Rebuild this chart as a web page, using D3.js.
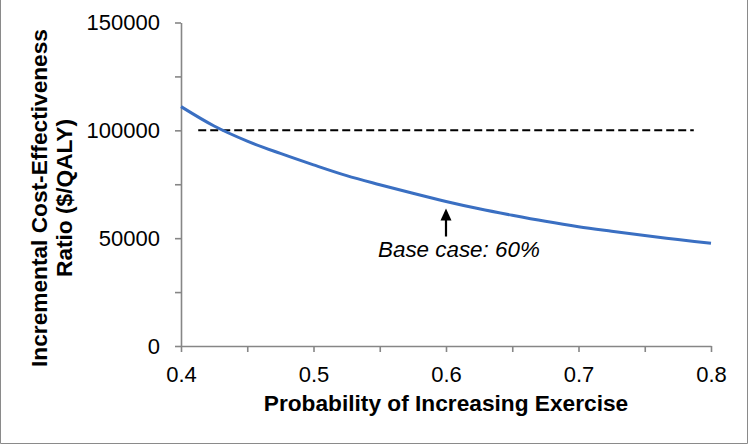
<!DOCTYPE html>
<html>
<head>
<meta charset="utf-8">
<script src="https://cdn.jsdelivr.net/npm/d3@7"></script>
<style>
  html, body { margin: 0; padding: 0; background: #fff; }
  svg { display: block; font-family: "Liberation Sans", Arial, sans-serif; }
</style>
</head>
<body>
<svg id="chart" width="750" height="444"></svg>
<script>
// ---- data ----
const probability = [0.400, 0.425, 0.450, 0.475, 0.500, 0.525, 0.550, 0.575, 0.600,
                     0.625, 0.650, 0.675, 0.700, 0.725, 0.750, 0.775, 0.800];
const icer = [111000, 102000, 95000, 89300, 84000, 79000, 74800, 70800, 67000,
              63600, 60600, 57800, 55300, 53200, 51200, 49400, 47600];
const thresholdX = [0.413, 0.787];
const thresholdValue = 100000;
const baseCaseX = 0.6;
const baseCaseLabel = "Base case: 60%";
const yTicks = [0, 25000, 50000, 75000, 100000, 125000, 150000];
const yLabels = [0, 50000, 100000, 150000];
const xTicks = [0.4, 0.45, 0.5, 0.55, 0.6, 0.65, 0.7, 0.75, 0.8];
const xLabels = [0.4, 0.5, 0.6, 0.7, 0.8];
const xTitle = "Probability of Increasing Exercise";
const yTitleLines = ["Incremental Cost-Effectiveness", "Ratio ($/QALY)"];

(function () {
// ---- layout ----
const svg = d3.select("#chart");
const mLeft = 181, mRight = 711, mTop = 22.5, mBottom = 346;
const axisColor = "#868686";
const x = d3.scaleLinear().domain([0.4, 0.8]).range([mLeft, mRight]);
const y = d3.scaleLinear().domain([0, 150000]).range([mBottom, mTop]);

// border
svg.append("path")
  .attr("d", "M0.5,0 V443.5 H747.5 V0")
  .attr("fill", "none").attr("stroke", "#8a8a8a").attr("stroke-width", 1);

// y axis
const yAxis = d3.axisLeft(y).tickValues(yTicks)
  .tickFormat(d => yLabels.includes(d) ? String(d) : "")
  .tickSize(6).tickSizeOuter(0).tickPadding(15);
const gy = svg.append("g").attr("transform", `translate(${mLeft},0)`).call(yAxis);
gy.select(".domain").attr("stroke", axisColor).attr("stroke-width", 1.6);
gy.selectAll(".tick line").attr("stroke", axisColor).attr("stroke-width", 1.6);
gy.selectAll(".tick text").attr("fill", "#000").style("font-size", "22px")
  .style("font-family", "'Liberation Sans', Arial, sans-serif");

// x axis
const xAxis = d3.axisBottom(x).tickValues(xTicks)
  .tickFormat(d => xLabels.some(v => Math.abs(v - d) < 1e-9) ? d3.format(".1f")(d) : "")
  .tickSize(6).tickSizeOuter(0).tickPadding(14);
const gx = svg.append("g").attr("transform", `translate(0,${mBottom})`).call(xAxis);
gx.select(".domain").attr("stroke", axisColor).attr("stroke-width", 1.6);
gx.selectAll(".tick line").attr("stroke", axisColor).attr("stroke-width", 1.6);
gx.selectAll(".tick text").attr("fill", "#000").style("font-size", "22px")
  .style("font-family", "'Liberation Sans', Arial, sans-serif");

// threshold dashed line
svg.append("path")
  .attr("d", d3.line()([[x(thresholdX[0]), y(thresholdValue)], [x(thresholdX[1]), y(thresholdValue)]]))
  .attr("stroke", "#000").attr("stroke-width", 2).attr("stroke-dasharray", "8,4").attr("fill", "none");

// curve
const pts = probability.map((p, i) => [p, icer[i]]);
svg.append("path")
  .datum(pts)
  .attr("d", d3.line().x(d => x(d[0])).y(d => y(d[1])).curve(d3.curveMonotoneX))
  .attr("fill", "none").attr("stroke", "#3a6fc2").attr("stroke-width", 3);

// base case arrow
const baseVal = icer[probability.indexOf(baseCaseX)];
const ax = x(baseCaseX);
const tipY = y(baseVal) + 7;
svg.append("line").attr("x1", ax).attr("x2", ax).attr("y1", tipY + 28).attr("y2", tipY + 8)
  .attr("stroke", "#000").attr("stroke-width", 2.2);
svg.append("path")
  .attr("d", `M${ax},${tipY} L${ax - 5.5},${tipY + 12} L${ax + 5.5},${tipY + 12} Z`)
  .attr("fill", "#000");
svg.append("text").attr("x", ax - 68).attr("y", tipY + 48)
  .attr("font-size", 22.4).attr("font-style", "italic").attr("fill", "#000")
  .text(baseCaseLabel);

// axis titles
svg.append("text").attr("x", 446).attr("y", 411)
  .attr("text-anchor", "middle").attr("font-size", 22.7).attr("font-weight", "bold")
  .text(xTitle);
const yt = svg.append("text").attr("transform", "translate(47,198) rotate(-90)")
  .attr("text-anchor", "middle").attr("font-size", 22.7).attr("font-weight", "bold");
yTitleLines.forEach((t, i) => {
  yt.append("tspan").attr("x", 0).attr("y", i * 25).text(t);
});
})();
</script>
</body>
</html>
